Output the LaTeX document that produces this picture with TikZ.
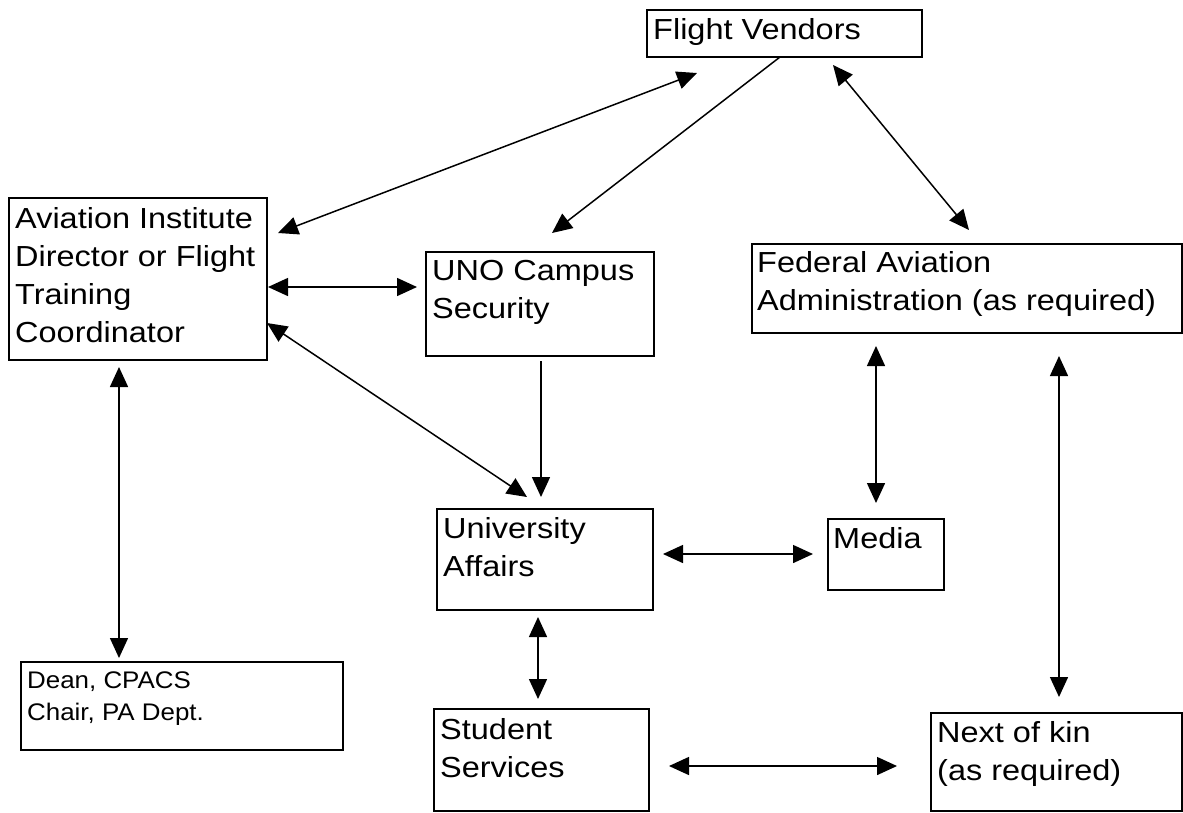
\documentclass[tikz,border=0pt]{standalone}
\usepackage{fontspec}
\setmainfont{Liberation Sans}[FakeStretch=1.12]
\newfontfamily\deanfont{Liberation Sans}[FakeStretch=1.08]
\usetikzlibrary{arrows.meta}
\tikzset{
  box/.style={draw, line width=1.5pt, inner sep=0pt, anchor=north west},
  txt/.style={anchor=north west, inner sep=0pt, align=left, font=\fontsize{29}{38}\selectfont},
  dtxt/.style={anchor=north west, inner sep=0pt, align=left, font=\deanfont\fontsize{24}{32}\selectfont},
  conn/.style={line width=1.5pt},
  dbl/.style={conn, {Triangle[length=20pt,width=18pt]}-{Triangle[length=20pt,width=18pt]}},
  one/.style={conn, -{Triangle[length=20pt,width=18pt]}}
}
\begin{document}
\begin{tikzpicture}[x=1pt, y=-1pt]
\useasboundingbox (0,0) rectangle (1183,812);
% boxes
\node[box, minimum width=275pt, minimum height=47pt]  (fv)    at (646,9)   {};
\node[box, minimum width=258pt, minimum height=162pt] (avi)   at (8,197)   {};
\node[box, minimum width=228pt, minimum height=104pt] (uno)   at (425,251) {};
\node[box, minimum width=430pt, minimum height=89pt]  (faa)   at (751,243) {};
\node[box, minimum width=216pt, minimum height=101pt] (ua)    at (436,508) {};
\node[box, minimum width=116pt, minimum height=71pt]  (media) at (827,518) {};
\node[box, minimum width=322pt, minimum height=88pt]  (dean)  at (20,661)  {};
\node[box, minimum width=215pt, minimum height=102pt] (ss)    at (433,708) {};
\node[box, minimum width=251pt, minimum height=98pt]  (nok)   at (930,712) {};
% texts
\node[txt] (fvt)    at ([shift={(7,9)}]fv.north west)    {\rule{0pt}{21pt}Flight Vendors};
\node[txt] (avit)   at ([shift={(7,10)}]avi.north west)  {\rule{0pt}{21pt}Aviation Institute\\Director or Flight\\Training\\Coordinator};
\node[txt] (unot)   at ([shift={(7,8)}]uno.north west)   {\rule{0pt}{21pt}UNO Campus\\Security};
\node[txt] (faat)   at ([shift={(6,8)}]faa.north west)   {\rule{0pt}{21pt}Federal Aviation\\Administration (as required)};
\node[txt] (uat)    at ([shift={(7,9)}]ua.north west)    {\rule{0pt}{21pt}University\\Affairs};
\node[txt] (mediat) at ([shift={(6,9)}]media.north west) {\rule{0pt}{21pt}Media};
\node[dtxt] (deant) at ([shift={(7,10)}]dean.north west) {\rule{0pt}{17pt}Dean, CPACS\\Chair, PA Dept.};
\node[txt] (sst)    at ([shift={(7,10)}]ss.north west)   {\rule{0pt}{21pt}Student\\Services};
\node[txt] (nokt)   at ([shift={(7,9)}]nok.north west)   {\rule{0pt}{21pt}Next of kin\\(as required)};
% connectors
\draw[dbl] ([shift={(270,36)}]avi.north west) -- ([shift={(51,64)}]fv.north west);
\draw[one] ([shift={(134,48)}]fv.north west) -- ([shift={(127,-18)}]uno.north west);
\draw[dbl] ([shift={(187,56)}]fv.north west) -- ([shift={(218,-13)}]faa.north west);
\draw[dbl] ([shift={(260,90)}]avi.north west) -- ([shift={(-8,36)}]uno.north west);
\draw[dbl] ([shift={(259,126)}]avi.north west) -- ([shift={(91,-11)}]ua.north west);
\draw[one] ([shift={(116,110)}]uno.north west) -- ([shift={(105,-11)}]ua.north west);
\draw[dbl] ([shift={(227,46)}]ua.north west) -- ([shift={(-14,36)}]media.north west);
\draw[dbl] ([shift={(102,109)}]ua.north west) -- ([shift={(105,-9)}]ss.north west);
\draw[dbl] ([shift={(236,58)}]ss.north west) -- ([shift={(-33,54)}]nok.north west);
\draw[dbl] ([shift={(125,103)}]faa.north west) -- ([shift={(49,-15)}]media.north west);
\draw[dbl] ([shift={(308,113)}]faa.north west) -- ([shift={(129,-15)}]nok.north west);
\draw[dbl] ([shift={(111,170)}]avi.north west) -- ([shift={(99,-3)}]dean.north west);
\end{tikzpicture}
\end{document}
